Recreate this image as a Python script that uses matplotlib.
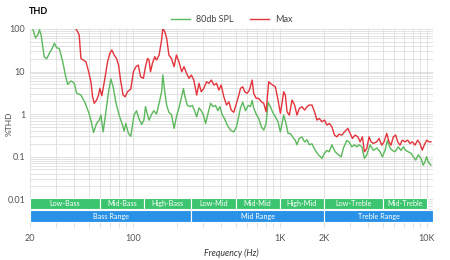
import numpy as np
import matplotlib
matplotlib.use('Agg')
import matplotlib.pyplot as plt
from matplotlib.ticker import NullFormatter
plt.rcParams['font.family'] = ['Lato', 'DejaVu Sans']

# 80db SPL
spl_freq = [20.9, 21.8, 22.6, 23.2, 23.8, 25, 26, 27.1, 28.2, 29.3, 30.4, 31.6, 33.4, 34.8, 36.1, 38, 40, 41.5, 44.4, 47.5,
            50.6, 52.5, 54.1, 56.7, 59.1, 60.7, 62.9, 65.6, 68.4, 70.9, 73.5, 76.7, 80.7, 85.1, 87.3, 89.6, 93.5, 96.9, 102, 106,
            110, 115, 119, 122, 126, 129, 134, 139, 145, 151, 157, 160, 165, 170, 176, 183, 191, 198, 206, 215,
            221, 226, 235, 245, 254, 263, 272, 282, 292, 302, 313, 324, 338, 352, 365, 379, 391, 406, 420, 439,
            462, 486, 507, 521, 540, 559, 584, 609, 631, 648, 664, 690, 718, 749, 777, 806, 832, 862, 894, 932,
            972, 1008, 1035, 1061, 1102, 1137, 1178, 1221, 1274, 1308, 1356, 1414, 1473, 1529, 1585, 1653, 1741, 1833, 1932, 2012,
            2089, 2166, 2259, 2378, 2504, 2612, 2707, 2855, 2959, 3087, 3215, 3337, 3459, 3608, 3758, 3901, 4107, 4324, 4560, 4801,
            4977, 5191, 5381, 5612, 5818, 6068, 6389, 6664, 6908, 7171, 7468, 7790, 8075, 8383, 8730, 9106, 9439, 9693, 9953, 10205,
            10644]
spl_thd = [100, 62, 72, 96, 72, 22, 20, 27, 34, 46, 36, 35, 17, 8.3, 5, 6, 5.3, 3.1, 2.8, 1.8,
           1, 0.6, 0.37, 0.6, 0.72, 0.95, 0.38, 1.1, 3.3, 6.7, 4.4, 1.9, 0.95, 0.55, 0.4, 0.6, 0.35, 0.3, 0.95, 1.2,
           0.79, 0.57, 0.72, 1.5, 0.95, 0.72, 0.98, 1.2, 1, 1.8, 3.3, 8.3, 3.3, 1.6, 1.1, 0.98, 0.46, 0.86, 1.4, 2.6,
           4, 2.6, 1.6, 1.5, 1.6, 1.2, 0.86, 1.4, 1.2, 0.95, 0.6, 1, 1.8, 1.5, 1.6, 1.2, 1.5, 0.95, 0.79, 0.55,
           0.42, 0.38, 0.5, 0.79, 1.4, 1.9, 1.2, 1.6, 1.5, 2.1, 1.4, 1, 0.79, 0.5, 0.42, 0.6, 1.9, 1.5, 1.1, 0.86,
           0.66, 0.38, 0.6, 0.95, 0.6, 0.35, 0.35, 0.29, 0.24, 0.19, 0.27, 0.29, 0.22, 0.25, 0.19, 0.2, 0.14, 0.11, 0.091, 0.12,
           0.14, 0.13, 0.19, 0.13, 0.11, 0.099, 0.16, 0.24, 0.22, 0.17, 0.19, 0.17, 0.19, 0.17, 0.091, 0.11, 0.19, 0.14, 0.16, 0.13,
           0.099, 0.14, 0.24, 0.16, 0.14, 0.13, 0.17, 0.14, 0.17, 0.14, 0.13, 0.12, 0.099, 0.083, 0.11, 0.091, 0.063, 0.075, 0.099, 0.075,
           0.063]
# Max
max_freq = [41.1, 42.2, 43.2, 44.4, 46, 48, 50.1, 51.9, 53.3, 54.7, 56.7, 58.5, 59.7, 61.6, 62.9, 64.9, 67.4, 69.8, 72, 74.7,
            77.5, 80, 82.9, 85.9, 88.7, 92.1, 96.9, 101, 105, 109, 113, 118, 122, 126, 129, 132, 136, 141, 145, 151,
            157, 160, 165, 170, 176, 183, 191, 198, 206, 215, 223, 232, 241, 250, 260, 272, 282, 292, 304, 317,
            329, 342, 356, 371, 385, 399, 416, 434, 450, 467, 486, 507, 526, 540, 559, 577, 599, 621, 648, 664,
            690, 718, 749, 777, 806, 840, 862, 894, 932, 972, 1008, 1035, 1061, 1090, 1119, 1160, 1210, 1260, 1308, 1356,
            1414, 1473, 1529, 1585, 1653, 1722, 1787, 1853, 1932, 2012, 2089, 2166, 2259, 2352, 2442, 2532, 2641, 2750, 2900, 3006,
            3116, 3250, 3390, 3514, 3642, 3758, 3901, 4044, 4172, 4324, 4560, 4727, 4930, 5111, 5331, 5526, 5701, 5909, 6135, 6329,
            6561, 6801, 7093, 7399, 7669, 7949, 8292, 8649, 8965, 9293, 9587, 9953, 10317, 10644]
max_thd = [100, 86, 72, 20.4, 18.7, 17, 9.9, 5.75, 2.55, 1.79, 2.13, 2.8, 4.03, 2.7, 4.03, 7.55, 17, 26.8, 32.1, 24.4,
           20.4, 14.2, 5.75, 2.8, 2.55, 3.35, 3.87, 9.89, 13, 14.2, 7.54, 6.92, 13, 20.4, 18.6, 9.89, 15.6, 22.3, 18.6, 24.4,
           55.1, 104, 86.4, 60.4, 24.4, 20.4, 13, 24.4, 17, 9.89, 13, 9.07, 6.92, 8.27, 6.31, 2.8, 5.28, 3.35, 4.02, 5.75,
           5.28, 6.31, 4.81, 5.28, 3.67, 4.81, 2.55, 1.63, 1.95, 1.24, 1.1, 1.79, 2.8, 4.02, 4.39, 3.35, 3.07, 3.67, 6.31, 3.07,
           2.34, 2.34, 1.95, 1.79, 1.13, 5.75, 5.28, 4.81, 4.39, 2.14, 1.04, 1.79, 3.35, 2.8, 1.13, 0.947, 2.14, 1.63, 0.947, 1.36,
           1.49, 1.24, 1.49, 1.63, 1.63, 1.13, 0.722, 0.792, 0.659, 0.722, 0.551, 0.604, 0.503, 0.321, 0.292, 0.338, 0.321, 0.383, 0.461, 0.351,
           0.268, 0.321, 0.292, 0.223, 0.292, 0.13, 0.156, 0.292, 0.223, 0.204, 0.223, 0.268, 0.186, 0.223, 0.351, 0.223, 0.186, 0.292, 0.321, 0.223,
           0.186, 0.244, 0.223, 0.244, 0.204, 0.223, 0.186, 0.244, 0.204, 0.142, 0.186, 0.244, 0.223, 0.223]

sub_names = ['Low-Bass', 'Mid-Bass', 'High-Bass', 'Low-Mid', 'Mid-Mid', 'High-Mid', 'Low-Treble', 'Mid-Treble']
sub_edges = [20, 60, 120, 250, 500, 1000, 2000, 5000, 10000]
range_names = ['Bass Range', 'Mid Range', 'Treble Range']
range_edges = [20, 250, 2000, 11000]

fig = plt.figure(figsize=(4.5, 2.6), dpi=100)
ax = fig.add_axes([30/450, 32/260, 403/450, 199/260])
ax.set_xscale('log')
ax.set_yscale('log')
ax.set_xlim(20, 11000)
ax.set_ylim(0.0021, 100)
ax.grid(True, which='both', color='#dedede', lw=0.6)
ax.set_axisbelow(True)
for s in ax.spines.values():
    s.set_visible(False)

ax.plot(spl_freq, spl_thd, color='#5cb85c', lw=1.0, label='80db SPL')
ax.plot(max_freq, max_thd, color='#e3343c', lw=1.0, label='Max')

# 频段色块
lo = np.array(sub_edges[:-1]); hi = np.array(sub_edges[1:])
ax.bar(lo, 0.0106 - 0.00582, width=hi - lo, bottom=0.00582, align='edge', color='#3cc46f', edgecolor='white', lw=0.8)
for n, a, b in zip(sub_names, lo, hi):
    ax.text(np.sqrt(a*b), np.sqrt(0.00582*0.0106), n, color='white', fontsize=5.2, ha='center', va='center')
lo = np.array(range_edges[:-1]); hi = np.array(range_edges[1:])
ax.bar(lo, 0.00548 - 0.00288, width=hi - lo, bottom=0.00288, align='edge', color='#2a92e6', edgecolor='white', lw=0.8)
for n, a, b in zip(range_names, lo, hi):
    ax.text(np.sqrt(a*b), np.sqrt(0.00288*0.00548), n, color='white', fontsize=5.2, ha='center', va='center')

ax.minorticks_on()
ax.set_xticks([20, 100, 1000, 2000, 10000], ['20', '100', '1K', '2K', '10K'])
ax.set_yticks([100, 10, 1, 0.1, 0.01], ['100', '10', '1', '0.1', '0.01'])
ax.xaxis.set_minor_formatter(NullFormatter())
ax.yaxis.set_minor_formatter(NullFormatter())
ax.tick_params(which='both', length=0, labelsize=6.5, labelcolor='#555555')
ax.tick_params(axis='x', pad=4)

ax.set_xlabel('Frequency (Hz)', fontsize=6.3, style='italic', color='#333333', labelpad=4)
fig.text(9/450, 1 - 124/260, '%THD', fontsize=6, color='#444444', rotation=90, ha='center', va='center')
fig.text(29/450, 1 - 11/260, 'THD', fontsize=6.5, fontweight='bold', va='center', ha='left')
ax.legend(loc='lower center', bbox_to_anchor=(0.5, 1.0), ncol=2, frameon=False, fontsize=6.5,
          handlelength=2.2, columnspacing=1.8, handletextpad=0.6, borderaxespad=0.1, labelcolor='#444444')
fig.savefig('out.png')
